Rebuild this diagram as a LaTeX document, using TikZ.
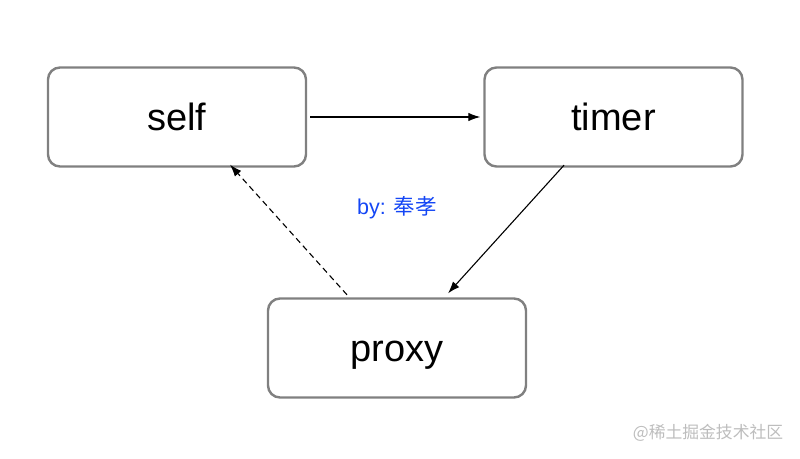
\documentclass[tikz,border=0pt]{standalone}
\usepackage{fontspec}
\setmainfont{Liberation Sans}
\newfontfamily\cjk{Noto Sans CJK SC}
\usetikzlibrary{arrows.meta,calc}
\definecolor{boxgray}{HTML}{808080}
\definecolor{byblue}{HTML}{1446F5}
\definecolor{wmgray}{HTML}{BDBDBD}
\tikzset{
  box/.style={draw=boxgray, line width=2.4pt, rounded corners=12pt, fill=white,
    minimum width=258pt, minimum height=99pt, inner sep=0pt,
    text height=27pt, text depth=0pt, font=\fontsize{38}{42}\selectfont},
  conn/.style={line width=1.1pt, -{Latex[length=12pt,width=8.5pt]}},
}
\begin{document}
\begin{tikzpicture}[x=1pt,y=-1pt]
\useasboundingbox (0,0) rectangle (800,458);
\node[box] (self) at (177,117) {self};
\node[box] (timer) at (613.5,117) {timer};
\node[box] (proxy) at (397,348) {proxy};
\draw[conn] ($(self.east)+(3,0)$) -- ($(timer.west)+(-3,0)$);
\draw[conn] ($(timer.south)+(-49.5,-2.5)$) -- ($(proxy.north)+(51,-4)$);
\draw[conn, dashed, dash pattern=on 6pt off 4pt] ($(proxy.north)+(-50,-2.5)$) -- ($(self.south)+(53,-3)$);
\node[text=byblue, font=\fontsize{21.5}{24}\selectfont, inner sep=0pt] (by) at (397,208) {by: {\cjk 奉孝}};
\node[text=wmgray, font=\cjk\fontsize{16.8}{20}\selectfont, inner sep=0pt] (wm) at (708,433) {@稀土掘金技术社区};
\end{tikzpicture}
\end{document}
